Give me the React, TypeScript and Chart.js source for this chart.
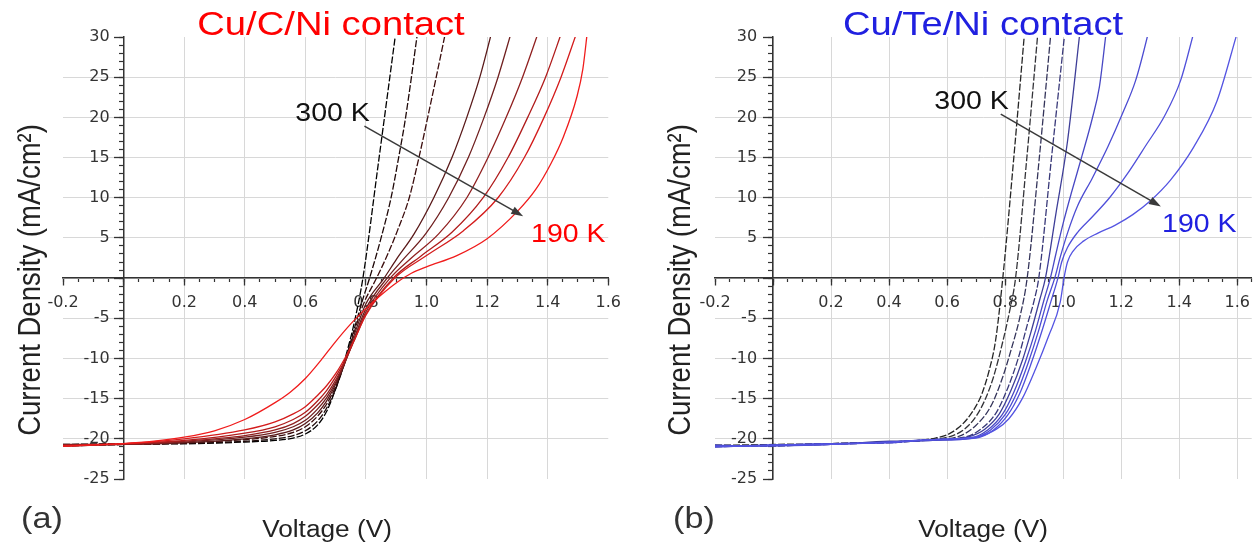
import React, { useEffect, useRef } from "react";
import { Chart, registerables } from "chart.js";

Chart.register(...registerables);

type Pt = [number, number]; // [voltage V, current density mA/cm²]

// ---------- Panel (a): Cu/C/Ni contact, 300 K (first) -> 190 K (last) ----------
const cuC_1_300K: Pt[] = [[-0.2, -20.7], [0, -20.6], [0.2, -20.6], [0.4, -20.4], [0.5, -20.2], [0.56, -19.9], [0.6, -19.4], [0.64, -18.3], [0.67, -16.6], [0.7, -13.8], [0.72, -11.5], [0.74, -8.8], [0.76, -5.8], [0.79, 0], [0.84, 14], [0.9, 31]];
const cuC_2: Pt[] = [[-0.2, -20.8], [0, -20.7], [0.2, -20.6], [0.4, -20.3], [0.5, -20.0], [0.56, -19.6], [0.6, -19.0], [0.64, -17.8], [0.67, -16.2], [0.7, -13.8], [0.73, -10.5], [0.76, -6.5], [0.79, -2.6], [0.812, 0], [0.85, 5], [0.883, 10], [0.908, 15], [0.931, 20], [0.972, 31]];
const cuC_3: Pt[] = [[-0.2, -20.9], [0, -20.7], [0.2, -20.5], [0.4, -20.1], [0.5, -19.7], [0.56, -19.2], [0.6, -18.5], [0.64, -17.2], [0.67, -15.7], [0.7, -13.5], [0.73, -10.6], [0.76, -6.9], [0.79, -3.4], [0.835, 0], [0.87, 2.8], [0.905, 6], [0.943, 10], [0.975, 15], [1.004, 20], [1.032, 25], [1.065, 31]];
const cuC_4: Pt[] = [[-0.2, -20.8], [0, -20.7], [0.2, -20.5], [0.4, -20.0], [0.5, -19.5], [0.56, -18.9], [0.6, -18.1], [0.64, -16.8], [0.67, -15.3], [0.7, -13.2], [0.73, -10.5], [0.76, -7.2], [0.8, -3.2], [0.86, 0], [0.9, 2.3], [0.959, 5.5], [1.024, 10], [1.084, 15], [1.133, 20], [1.176, 25], [1.218, 31]];
const cuC_5: Pt[] = [[-0.2, -20.7], [0, -20.7], [0.2, -20.4], [0.4, -19.8], [0.5, -19.2], [0.56, -18.5], [0.6, -17.7], [0.64, -16.3], [0.67, -14.9], [0.7, -13.0], [0.73, -10.6], [0.76, -7.6], [0.8, -3.8], [0.87, 0], [0.92, 2.2], [0.997, 5.5], [1.073, 10], [1.138, 15], [1.19, 20], [1.236, 25], [1.283, 31]];
const cuC_6: Pt[] = [[-0.2, -20.9], [0, -20.7], [0.2, -20.3], [0.4, -19.6], [0.5, -18.9], [0.56, -18.1], [0.6, -17.2], [0.64, -15.8], [0.67, -14.5], [0.7, -12.7], [0.73, -10.5], [0.76, -7.8], [0.8, -4.2], [0.88, 0], [0.95, 2.5], [1.04, 5.5], [1.133, 10], [1.203, 15], [1.263, 20], [1.317, 25], [1.373, 31]];
const cuC_7: Pt[] = [[-0.2, -20.8], [0, -20.6], [0.2, -20.2], [0.4, -19.3], [0.5, -18.5], [0.56, -17.6], [0.6, -16.7], [0.64, -15.3], [0.67, -14.0], [0.7, -12.3], [0.73, -10.3], [0.76, -7.9], [0.8, -4.5], [0.89, 0], [0.98, 2.7], [1.084, 5.7], [1.187, 10], [1.269, 15], [1.334, 20], [1.393, 25], [1.45, 31]];
const cuC_8: Pt[] = [[-0.2, -20.9], [0, -20.6], [0.2, -20.0], [0.4, -18.9], [0.5, -17.9], [0.56, -16.9], [0.6, -16.0], [0.64, -14.6], [0.67, -13.4], [0.7, -11.9], [0.73, -10.0], [0.76, -7.8], [0.8, -4.6], [0.895, 0], [1.0, 2.8], [1.122, 5.9], [1.236, 10], [1.323, 15], [1.388, 20], [1.444, 25], [1.5, 31]];
const cuC_9_190K: Pt[] = [[-0.2, -20.9], [0, -20.6], [0.1, -20.3], [0.2, -19.8], [0.3, -19.0], [0.4, -17.6], [0.5, -15.5], [0.55, -14.2], [0.6, -12.5], [0.65, -10.3], [0.7, -7.9], [0.75, -5.7], [0.8, -3.8], [0.85, -2.1], [0.9, -0.6], [0.95, 0.6], [1.0, 1.4], [1.1, 2.8], [1.2, 4.9], [1.3, 8.3], [1.36, 11.0], [1.41, 14.2], [1.452, 17.6], [1.496, 22.5], [1.516, 26.0], [1.532, 31]];

const cuCCurves: Pt[][] = [cuC_1_300K, cuC_2, cuC_3, cuC_4, cuC_5, cuC_6, cuC_7, cuC_8, cuC_9_190K];
const cuCColors = ["#000000", "#1e0808", "#3a0c0c", "#5a1a1a", "#702020", "#902020", "#b01c1c", "#d41c1c", "#f01c1c"];
const cuCDashed = [true, true, true, false, false, false, false, false, false];

// ---------- Panel (b): Cu/Te/Ni contact, 300 K (first) -> 190 K (last) ----------
const cuTe_1_300K: Pt[] = [[-0.2, -20.8], [0, -20.8], [0.2, -20.6], [0.4, -20.4], [0.5, -20.2], [0.56, -19.9], [0.6, -19.5], [0.64, -18.6], [0.67, -17.5], [0.7, -15.9], [0.72, -14.4], [0.745, -11.5], [0.767, -7.8], [0.792, 0], [0.83, 15], [0.868, 31]];
const cuTe_2: Pt[] = [[-0.2, -20.9], [0, -20.7], [0.2, -20.6], [0.4, -20.4], [0.55, -20.1], [0.62, -19.6], [0.66, -18.8], [0.7, -17.2], [0.73, -15.2], [0.76, -12.3], [0.79, -8.2], [0.815, -4.2], [0.836, 0], [0.875, 15], [0.914, 31]];
const cuTe_3: Pt[] = [[-0.2, -21.0], [0, -20.8], [0.2, -20.7], [0.4, -20.4], [0.55, -20.1], [0.64, -19.7], [0.7, -18.3], [0.75, -16.0], [0.79, -12.5], [0.82, -9], [0.85, -5], [0.876, 0], [0.918, 15], [0.959, 31]];
const cuTe_4: Pt[] = [[-0.2, -20.8], [0, -20.9], [0.2, -20.6], [0.4, -20.5], [0.55, -20.1], [0.66, -19.8], [0.72, -18.7], [0.77, -16.7], [0.81, -13.6], [0.845, -10], [0.875, -6], [0.9, -2.8], [0.916, 0], [0.96, 15], [1.007, 31]];
const cuTe_5: Pt[] = [[-0.2, -20.9], [0, -20.8], [0.2, -20.7], [0.4, -20.3], [0.55, -20.2], [0.67, -19.8], [0.73, -18.8], [0.78, -16.9], [0.82, -14], [0.86, -10.2], [0.89, -6.6], [0.92, -2.6], [0.939, 0], [0.975, 8], [1.015, 17], [1.059, 31]];
const cuTe_6: Pt[] = [[-0.2, -21.0], [0, -20.8], [0.2, -20.6], [0.4, -20.4], [0.55, -20.1], [0.68, -19.9], [0.74, -18.9], [0.79, -17], [0.83, -14.2], [0.87, -10.4], [0.905, -6.5], [0.935, -2.6], [0.956, 0], [0.975, 3.0], [1.0, 6.8], [1.03, 10.8], [1.065, 15.2], [1.1, 19.8], [1.125, 23.8], [1.148, 30.5]];
const cuTe_7: Pt[] = [[-0.2, -20.8], [0, -20.9], [0.2, -20.7], [0.4, -20.4], [0.55, -20.2], [0.69, -19.9], [0.75, -18.9], [0.8, -17], [0.84, -14.3], [0.88, -10.5], [0.915, -6.6], [0.945, -2.8], [0.971, 0], [0.99, 2.6], [1.015, 5.6], [1.05, 9.0], [1.1, 12.4], [1.155, 16.4], [1.205, 20.5], [1.25, 24.6], [1.29, 30.0], [1.295, 30.8]];
const cuTe_8: Pt[] = [[-0.2, -20.9], [0, -20.8], [0.2, -20.6], [0.4, -20.5], [0.55, -20.1], [0.7, -19.9], [0.76, -18.9], [0.81, -17], [0.85, -14.4], [0.89, -10.6], [0.925, -6.8], [0.958, -2.9], [0.982, 0], [0.995, 2.0], [1.015, 3.8], [1.05, 5.7], [1.1, 7.6], [1.16, 10.0], [1.22, 12.9], [1.285, 16.5], [1.35, 20.2], [1.405, 24.6], [1.45, 30.5]];
const cuTe_9_190K: Pt[] = [[-0.2, -21.0], [0, -20.8], [0.2, -20.7], [0.4, -20.4], [0.55, -20.1], [0.71, -19.7], [0.77, -18.8], [0.813, -17.5], [0.859, -15], [0.905, -11.3], [0.95, -7.2], [0.99, -3.0], [1.003, 0], [1.015, 2.0], [1.035, 3.4], [1.07, 4.6], [1.12, 5.6], [1.18, 6.6], [1.24, 7.9], [1.3, 9.6], [1.37, 12.2], [1.45, 16.3], [1.53, 22.0], [1.6, 30.5]];

const cuTeCurves: Pt[][] = [cuTe_1_300K, cuTe_2, cuTe_3, cuTe_4, cuTe_5, cuTe_6, cuTe_7, cuTe_8, cuTe_9_190K];
const cuTeColors = ["#262626", "#333338", "#34345a", "#383878", "#3e3e98", "#4848c4", "#4c4cd2", "#5050da", "#5454e2"];
const cuTeDashed = [true, true, true, true, false, false, false, false, false];

// ---------- axes ----------
const voltageRangeA: [number, number] = [-0.2, 1.6];
const voltageRangeB: [number, number] = [-0.2, 1.65];
const currentRange: [number, number] = [-25, 30];
const voltageStep = 0.2;
const voltageMinorStep = 0.05;
const currentStep = 5;
const currentMinorStep = 1;

const TICK_FONT = { family: "'DejaVu Sans', sans-serif", size: 16 };
const TEXT_FAMILY = "'Liberation Sans', Arial, sans-serif";
const STRETCH = 1.14;

type PanelCfg = {
  curves: Pt[][];
  colors: string[];
  dashed: boolean[];
  range: [number, number];
  yLabelAt: number;
  title: string;
  titleColor: string;
  titleX: number;
  xTitleX: number;
  yTitleX: number;
  panelLabel: string;
  panelLabelX: number;
  hotLabel: [number, number];
  coldLabel: [number, number];
  arrow: [number, number, number, number];
  padding: { left: number; right: number; top: number; bottom: number };
};

function drawText(
  ctx: CanvasRenderingContext2D,
  text: string,
  x: number,
  y: number,
  size: number,
  color: string,
  align: CanvasTextAlign,
  rotate = false
) {
  ctx.save();
  ctx.translate(x, y);
  if (rotate) {
    ctx.rotate(-Math.PI / 2);
    ctx.scale(1, STRETCH);
  } else {
    ctx.scale(STRETCH, 1);
  }
  ctx.font = `${size}px ${TEXT_FAMILY}`;
  ctx.fillStyle = color;
  ctx.textAlign = align;
  ctx.textBaseline = "alphabetic";
  ctx.fillText(text, 0, 0);
  ctx.restore();
}

function makeDecor(cfg: PanelCfg) {
  return {
    id: "decor",
    afterDraw(chart: any) {
      const ctx: CanvasRenderingContext2D = chart.ctx;
      const xs = chart.scales.x;
      const ys = chart.scales.y;
      const px = (v: number) => xs.getPixelForValue(v);
      const py = (j: number) => ys.getPixelForValue(j);

      drawText(ctx, cfg.title, cfg.titleX, 35, 33.5, cfg.titleColor, "center");
      drawText(ctx, "Voltage (V)", cfg.xTitleX, 537, 23, "#222", "center");
      drawText(ctx, "Current Density (mA/cm²)", cfg.yTitleX, 280, 27.5, "#222", "center", true);
      drawText(ctx, cfg.panelLabel, cfg.panelLabelX, 528, 30, "#333", "left");

      drawText(ctx, "300 K", px(cfg.hotLabel[0]), py(cfg.hotLabel[1]), 25, "#111", "left");
      drawText(ctx, "190 K", px(cfg.coldLabel[0]), py(cfg.coldLabel[1]), 25, cfg.titleColor, "left");

      const x1 = px(cfg.arrow[0]);
      const y1 = py(cfg.arrow[1]);
      const x2 = px(cfg.arrow[2]);
      const y2 = py(cfg.arrow[3]);
      const ang = Math.atan2(y2 - y1, x2 - x1);
      const head = 12;
      ctx.save();
      ctx.strokeStyle = "#3a3a3a";
      ctx.fillStyle = "#3a3a3a";
      ctx.lineWidth = 1.5;
      ctx.beginPath();
      ctx.moveTo(x1, y1);
      ctx.lineTo(x2 - Math.cos(ang) * head * 0.8, y2 - Math.sin(ang) * head * 0.8);
      ctx.stroke();
      ctx.beginPath();
      ctx.moveTo(x2, y2);
      ctx.lineTo(x2 - head * Math.cos(ang) + 4 * Math.sin(ang), y2 - head * Math.sin(ang) - 4 * Math.cos(ang));
      ctx.lineTo(x2 - head * Math.cos(ang) - 4 * Math.sin(ang), y2 - head * Math.sin(ang) + 4 * Math.cos(ang));
      ctx.closePath();
      ctx.fill();
      ctx.restore();
    },
  };
}

const near = (a: number, b: number) => Math.abs(a - b) < 1e-6;

function buildConfig(cfg: PanelCfg): any {
  const [vMin, vMax] = cfg.range;
  const [jMin, jMax] = currentRange;
  const gridColor = (min: number, max: number) => (c: any) =>
    c.tick && (near(c.tick.value, min) || near(c.tick.value, max)) ? "rgba(0,0,0,0)" : "#d8d8d8";
  return {
    type: "line",
    data: {
      datasets: cfg.curves.map((pts, i) => ({
        label: `curve ${i + 1}`,
        data: pts.map(([v, j]) => ({ x: v, y: j })),
        borderColor: cfg.colors[i],
        borderWidth: 1.3,
        borderDash: cfg.dashed[i] ? [7, 2] : [],
        pointRadius: 0,
        fill: false,
        cubicInterpolationMode: "monotone",
        order: cfg.curves.length - i,
        clip: 0,
      })),
    },
    options: {
      responsive: false,
      animation: false,
      events: [],
      layout: { padding: cfg.padding },
      plugins: { legend: { display: false }, tooltip: { enabled: false }, title: { display: false } },
      scales: {
        x: {
          type: "linear",
          position: { y: 0 },
          min: vMin,
          max: vMax,
          grid: { color: gridColor(vMin, vMax), lineWidth: 1, tickLength: 7, tickColor: "#333", tickWidth: 1.3 },
          border: { display: true, color: "#333", width: 1.5 },
          ticks: {
            stepSize: voltageStep,
            includeBounds: false,
            autoSkip: false,
            maxRotation: 0,
            padding: 8,
            color: "#333",
            font: TICK_FONT,
            callback: (v: any) => (near(Number(v), 0) ? "" : Number(v).toFixed(1)),
          },
        },
        xm: {
          type: "linear",
          position: { y: 0 },
          min: vMin,
          max: vMax,
          grid: { display: true, drawOnChartArea: false, tickLength: 4, tickColor: "#333", tickWidth: 1.2 },
          border: { display: false },
          ticks: { stepSize: voltageMinorStep, display: false },
        },
        y: {
          type: "linear",
          position: { x: 0 },
          min: jMin,
          max: jMax,
          grid: { color: gridColor(jMin, jMax), lineWidth: 1, tickLength: 9, tickColor: "#333", tickWidth: 1.3 },
          border: { display: true, color: "#333", width: 1.5 },
          ticks: { stepSize: currentStep, display: false },
        },
        ylab: {
          type: "linear",
          position: { x: cfg.yLabelAt },
          min: jMin,
          max: jMax,
          grid: { display: false },
          border: { display: false },
          ticks: {
            stepSize: currentStep,
            autoSkip: false,
            color: "#333",
            font: TICK_FONT,
            callback: (v: any) => (near(Number(v), 0) ? "" : String(Math.round(Number(v)))),
          },
        },
        ym: {
          type: "linear",
          position: { x: 0 },
          min: jMin,
          max: jMax,
          grid: { display: true, drawOnChartArea: false, tickLength: 5, tickColor: "#333", tickWidth: 1.2 },
          border: { display: false },
          ticks: { stepSize: currentMinorStep, display: false },
        },
      },
    },
    plugins: [makeDecor(cfg)],
  };
}

const panelA: PanelCfg = {
  curves: cuCCurves,
  colors: cuCColors,
  dashed: cuCDashed,
  range: voltageRangeA,
  yLabelAt: -0.046,
  title: "Cu/C/Ni contact",
  titleColor: "#ff0000",
  titleX: 331,
  xTitleX: 327,
  yTitleX: 40,
  panelLabel: "(a)",
  panelLabelX: 21,
  hotLabel: [0.567, 19.5],
  coldLabel: [1.345, 4.48],
  arrow: [0.795, 18.9, 1.319, 7.71],
  padding: { left: 63, right: 14, top: 37, bottom: 67 },
};

const panelB: PanelCfg = {
  curves: cuTeCurves,
  colors: cuTeColors,
  dashed: cuTeDashed,
  range: voltageRangeB,
  yLabelAt: -0.055,
  title: "Cu/Te/Ni contact",
  titleColor: "#2020e0",
  titleX: 983 - 629,
  xTitleX: 983 - 629,
  yTitleX: 690 - 629,
  panelLabel: "(b)",
  panelLabelX: 673 - 629,
  hotLabel: [0.556, 21.0],
  coldLabel: [1.341, 5.72],
  arrow: [0.785, 20.4, 1.337, 8.92],
  padding: { left: 86, right: 3, top: 37, bottom: 67 },
};

function Panel({ cfg, left }: { cfg: PanelCfg; left: number }) {
  const ref = useRef<HTMLCanvasElement>(null);
  useEffect(() => {
    if (!ref.current) return;
    const chart = new Chart(ref.current, buildConfig(cfg));
    return () => chart.destroy();
  }, [cfg]);
  return (
    <canvas
      ref={ref}
      width={629}
      height={546}
      style={{ position: "absolute", left, top: 0, width: 629, height: 546 }}
    />
  );
}

export default function App() {
  return (
    <div style={{ position: "fixed", left: 0, top: 0, width: 1258, height: 546, background: "#ffffff", overflow: "hidden" }}>
      <Panel cfg={panelA} left={0} />
      <Panel cfg={panelB} left={629} />
    </div>
  );
}
